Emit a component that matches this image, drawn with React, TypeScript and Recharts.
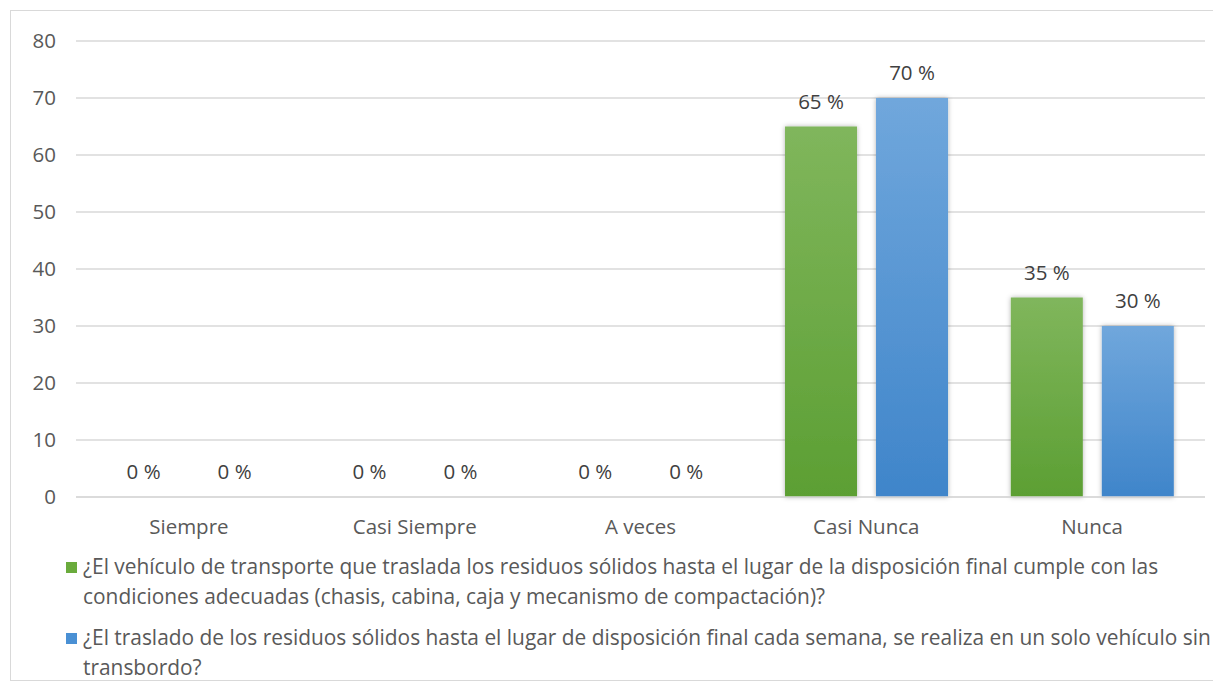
import { BarChart, Bar, XAxis, YAxis, CartesianGrid, LabelList } from 'recharts';

const categories = ['Siempre', 'Casi Siempre', 'A veces', 'Casi Nunca', 'Nunca'];
const vehiculoValues = [0, 0, 0, 65, 35];
const trasladoValues = [0, 0, 0, 70, 30];
const yTicks = [0, 10, 20, 30, 40, 50, 60, 70, 80];

const seriesNames = [
  '¿El vehículo de transporte que traslada los residuos sólidos hasta el lugar de la disposición final cumple con las\ncondiciones adecuadas (chasis, cabina, caja y mecanismo de compactación)?',
  '¿El traslado de los residuos sólidos hasta el lugar de disposición final cada semana, se realiza en un solo vehículo sin\ntransbordo?',
];
const seriesColors = ['#6aab3c', '#4a90d4'];

const data = categories.map((name, i) => ({
  name,
  vehiculo: vehiculoValues[i],
  traslado: trasladoValues[i],
}));

const font = '"Open Sans", sans-serif';
const fs = 20.5;

function CustomLegend() {
  return (
    <div
      style={{
        position: 'absolute',
        left: 55,
        top: 541,
        width: 1150,
        fontFamily: font,
        fontSize: 20.9,
        color: '#595959',
        lineHeight: '29.5px',
      }}
    >
      {seriesNames.map((n, i) => (
        <div key={i} style={{ display: 'flex', alignItems: 'flex-start', marginBottom: 12 }}>
          <span
            style={{
              display: 'inline-block',
              width: 11,
              height: 11,
              background: seriesColors[i],
              marginTop: 10,
              marginRight: 6,
              flexShrink: 0,
            }}
          />
          <span style={{ whiteSpace: 'pre-line' }}>{n}</span>
        </div>
      ))}
    </div>
  );
}

export default function App() {
  return (
    <div
      style={{
        position: 'relative',
        marginLeft: 2,
        marginTop: 2,
        width: 1211,
        height: 671,
        border: '1px solid #d9d9d9',
        boxSizing: 'border-box',
        background: '#fff',
      }}
    >
      <BarChart
        width={1209}
        height={669}
        data={data}
        margin={{ top: 30, right: 15, bottom: 153, left: 0 }}
        barCategoryGap="14%"
        barGap={19}
      >
        <defs>
          <linearGradient id="gGreen" x1="0" y1="0" x2="0" y2="1">
            <stop offset="0%" stopColor="#80b65c" />
            <stop offset="100%" stopColor="#5c9f33" />
          </linearGradient>
          <linearGradient id="gBlue" x1="0" y1="0" x2="0" y2="1">
            <stop offset="0%" stopColor="#70a7dc" />
            <stop offset="100%" stopColor="#3f85ca" />
          </linearGradient>
          <filter id="shadow" x="-20%" y="-5%" width="140%" height="110%">
            <feDropShadow dx="0" dy="0" stdDeviation="2.5" floodColor="#000" floodOpacity="0.3" />
          </filter>
        </defs>
        <CartesianGrid vertical={false} stroke="#d9d9d9" strokeWidth={1.5} />
        <XAxis
          dataKey="name"
          axisLine={{ stroke: '#d9d9d9', strokeWidth: 1.5 }}
          tickLine={false}
          tickSize={0}
          tickMargin={22}
          tick={{ fill: '#595959', fontSize: fs, fontFamily: font }}
        />
        <YAxis
          width={65}
          domain={[0, 80]}
          ticks={yTicks}
          axisLine={false}
          tickLine={false}
          tickSize={0}
          tickMargin={20}
          tick={{ fill: '#595959', fontSize: fs, fontFamily: font }}
        />
        <Bar
          dataKey="vehiculo"
          name={seriesNames[0]}
          fill="url(#gGreen)"
          filter="url(#shadow)"
          minPointSize={0.01}
          isAnimationActive={false}
        >
          <LabelList
            dataKey="vehiculo"
            position="top"
            offset={18}
            formatter={(v: any) => `${v} %`}
            style={{ fill: '#404040', fontSize: fs, fontFamily: font }}
          />
        </Bar>
        <Bar
          dataKey="traslado"
          name={seriesNames[1]}
          fill="url(#gBlue)"
          filter="url(#shadow)"
          minPointSize={0.01}
          isAnimationActive={false}
        >
          <LabelList
            dataKey="traslado"
            position="top"
            offset={18}
            formatter={(v: any) => `${v} %`}
            style={{ fill: '#404040', fontSize: fs, fontFamily: font }}
          />
        </Bar>
      </BarChart>
      <CustomLegend />
    </div>
  );
}
